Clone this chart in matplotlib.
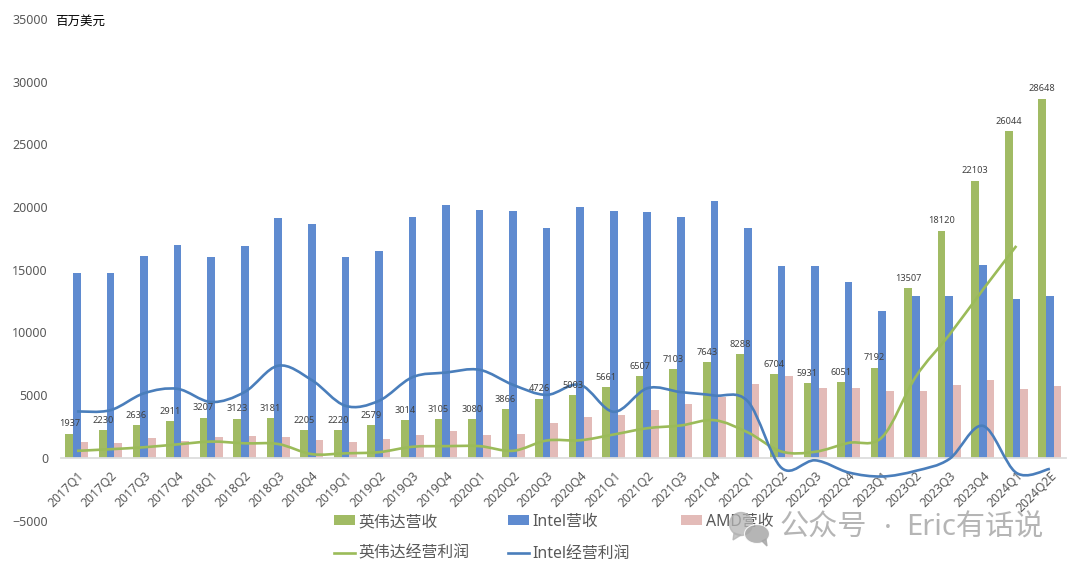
import matplotlib
matplotlib.use('Agg')
import matplotlib.pyplot as plt
import numpy as np
from matplotlib.patches import Ellipse, Polygon, PathPatch
from matplotlib.path import Path

plt.rcParams['font.family'] = ['Noto Sans', 'Noto Sans CJK SC', 'DejaVu Sans']

quarters = ['2017Q1', '2017Q2', '2017Q3', '2017Q4', '2018Q1', '2018Q2', '2018Q3', '2018Q4',
            '2019Q1', '2019Q2', '2019Q3', '2019Q4', '2020Q1', '2020Q2', '2020Q3', '2020Q4',
            '2021Q1', '2021Q2', '2021Q3', '2021Q4', '2022Q1', '2022Q2', '2022Q3', '2022Q4',
            '2023Q1', '2023Q2', '2023Q3', '2023Q4', '2024Q1', '2024Q2E']

nvda_rev = [1937, 2230, 2636, 2911, 3207, 3123, 3181, 2205, 2220, 2579, 3014, 3105, 3080, 3866, 4726,
            5003, 5661, 6507, 7103, 7643, 8288, 6704, 5931, 6051, 7192, 13507, 18120, 22103, 26044, 28648]
intel_rev = [14750, 14760, 16100, 17000, 16000, 16900, 19100, 18650, 16000, 16500, 19200, 20200, 19800, 19700, 18300,
             20000, 19700, 19600, 19200, 20500, 18350, 15300, 15300, 14000, 11700, 12900, 12900, 15400, 12700, 12900]
amd_rev = [1300, 1150, 1550, 1340, 1650, 1750, 1650, 1420, 1270, 1530, 1800, 2130, 1790, 1930, 2800,
           3240, 3445, 3850, 4313, 4826, 5887, 6550, 5565, 5599, 5353, 5359, 5800, 6168, 5473, 5700]

# no operating profit figure yet for the 2024Q2E estimate on the NVIDIA line
nvda_op = [554, 688, 842, 1073, 1295, 1157, 1100, 294, 358, 450, 880, 930, 930, 560, 1380,
           1400, 1860, 2360, 2580, 3000, 2020, 500, 480, 1190, 1650, 6460, 9800, 13400, 16900]
intel_op = [3700, 3800, 5150, 5500, 4450, 5250, 7350, 6200, 4150, 4545, 6430, 6800, 7020, 5820, 5020,
            5820, 3670, 5550, 5240, 4970, 4490, -800, -200, -1170, -1490, -1040, -100, 2550, -1200, -880]

GREEN_BAR = '#A1BB64'
BLUE_BAR = '#5F8BD0'
PINK_BAR = '#E3BBB8'
GREEN_LINE = '#9BBB59'
BLUE_LINE = '#4A7EBB'
W, H = 1080, 572


def smooth_path(xs, ys):
    # spreadsheet style smoothed line: one bezier per segment
    pts = np.column_stack([xs, ys]).astype(float)
    verts = [pts[0]]
    codes = [Path.MOVETO]
    n = len(pts)
    for i in range(n - 1):
        p0 = pts[max(i - 1, 0)]
        p1 = pts[i]
        p2 = pts[i + 1]
        p3 = pts[min(i + 2, n - 1)]
        verts += [p1 + (p2 - p0) / 6, p2 - (p3 - p1) / 6, p2]
        codes += [Path.CURVE4, Path.CURVE4, Path.CURVE4]
    return Path(verts, codes)


fig = plt.figure(figsize=(W / 100, H / 100), dpi=100)
ax = fig.add_axes([60.5 / W, 1 - 520.5 / H, (1066 - 60.5) / W, (520.5 - 19) / H])

x = np.arange(len(quarters))
bw = 0.228
bars1 = ax.bar(x - bw, nvda_rev, bw, color=GREEN_BAR, label='英伟达营收', zorder=2)
bars2 = ax.bar(x, intel_rev, bw, color=BLUE_BAR, label='Intel营收', zorder=2)
bars3 = ax.bar(x + bw, amd_rev, bw, color=PINK_BAR, label='AMD营收', zorder=2)

ax.add_patch(PathPatch(smooth_path(x[:len(nvda_op)], nvda_op), fc='none', ec=GREEN_LINE, lw=1.9, zorder=3))
ax.add_patch(PathPatch(smooth_path(x, intel_op), fc='none', ec=BLUE_LINE, lw=1.9, zorder=4))

for xi, v in zip(x, nvda_rev):
    ax.annotate(str(v), (xi - bw, v), xytext=(0, 7), textcoords='offset points',
                ha='center', va='center', fontsize=6.6, color='#404040', zorder=5)

# moving the spine resets the ticks, so it goes before the tick setup
for s in ['top', 'right', 'left']:
    ax.spines[s].set_visible(False)
ax.spines['bottom'].set_position(('data', 0))
ax.spines['bottom'].set_color('#DDDDDD')
ax.spines['bottom'].set_linewidth(1.3)

ax.set_xlim(-0.49, 29.48)
ax.set_ylim(-5000, 35000)
ax.set_yticks(range(-5000, 35001, 5000))
ax.set_xticks(x)
ax.set_xticklabels(quarters, rotation=45, ha='right', va='top', rotation_mode='anchor')
ax.tick_params(axis='x', length=0, pad=8, labelsize=8.8, labelcolor='#595959')
ax.tick_params(axis='y', length=0, pad=9, labelsize=9, labelcolor='#595959')
ax.patch.set_alpha(0)

fig.text(55 / W, 1 - 21 / H, '百万美元', fontsize=9, color='black', va='center')

# legend, filled column by column; AMD gets its own so its column can sit apart
line1 = plt.Line2D([], [], color=GREEN_LINE, lw=1.9)
line2 = plt.Line2D([], [], color=BLUE_LINE, lw=1.9)
leg_opts = dict(loc='upper left', bbox_transform=fig.transFigure, frameon=False, fontsize=11.4,
                labelcolor='#595959', handlelength=1.35, handleheight=0.6, handletextpad=0.2,
                labelspacing=1.0, borderpad=0, borderaxespad=0)
fig.legend([bars1, line1, bars2, line2], ['英伟达营收', '英伟达经营利润', 'Intel营收', 'Intel经营利润'],
           ncol=2, columnspacing=2.42, bbox_to_anchor=(334 / W, 1 - 514 / H), **leg_opts)
fig.legend([bars3], ['AMD营收'], bbox_to_anchor=(681 / W, 1 - 514 / H), **leg_opts)

# watermark with the chat bubble icon, drawn in pixel coordinates
wm = fig.add_axes([0, 0, 1, 1], zorder=10)
wm.set_xlim(0, W)
wm.set_ylim(H, 0)
wm.axis('off')
wm.add_patch(Ellipse((741, 524), 23, 23, color='#B3B3B3', alpha=0.75))
wm.add_patch(Polygon([[734, 533], [733, 540], [741, 535]], color='#B3B3B3', alpha=0.75))
wm.add_patch(Ellipse((757, 534), 25, 19, fc='#A8A8A8', ec='white', lw=0.8, alpha=0.85))
wm.add_patch(Polygon([[762, 541], [767, 546], [766, 539]], color='#A8A8A8', alpha=0.85))
wm.text(780, 528, '公众号', fontsize=21, color='#B5B5B5', va='center', ha='left')
wm.text(888, 528, '·', fontsize=21, color='#B5B5B5', va='center', ha='center')
wm.text(906, 528, 'Eric有话说', fontsize=21, color='#B5B5B5', va='center', ha='left')

fig.savefig('out.png', dpi=100, facecolor='white')
